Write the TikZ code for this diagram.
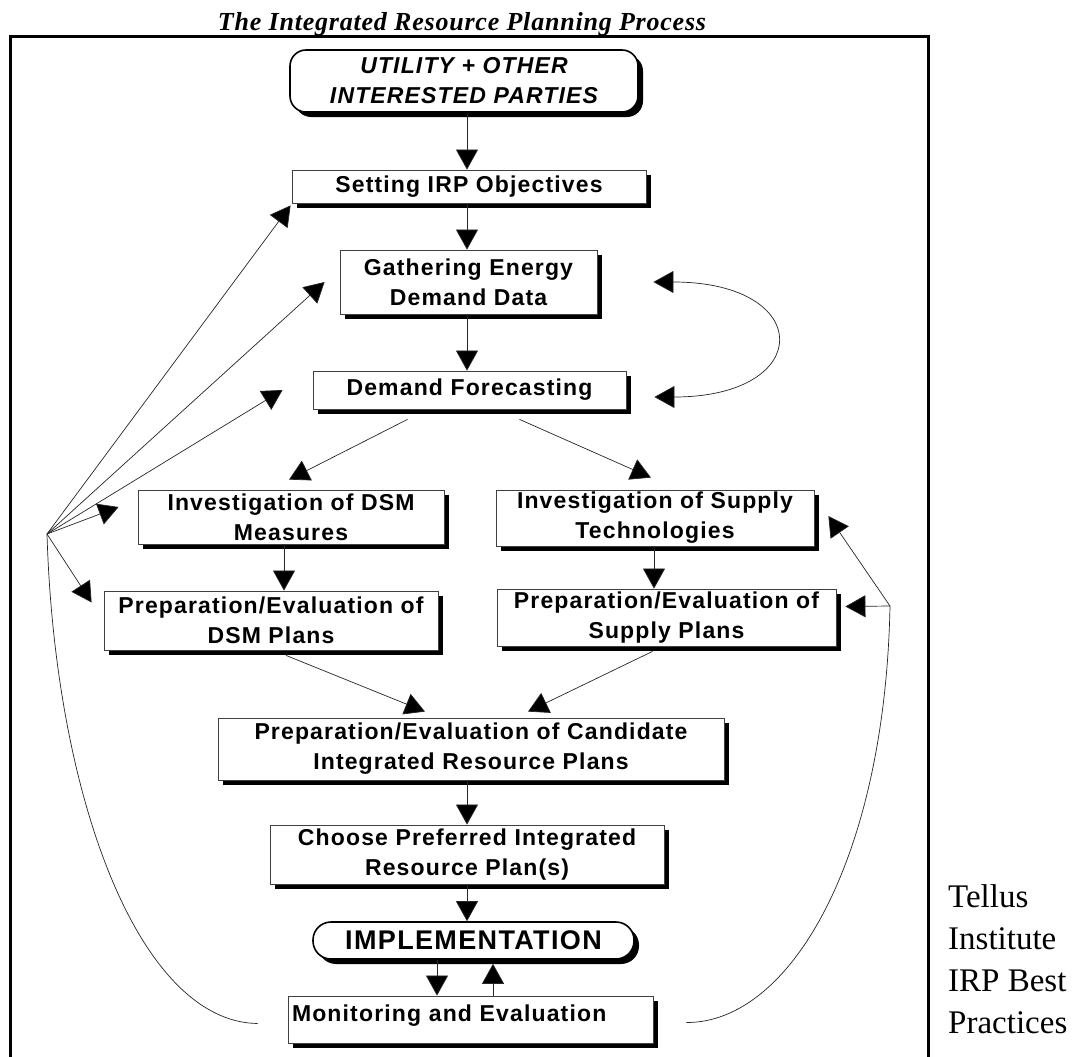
\documentclass[tikz,border=0pt]{standalone}
\usepackage{fontspec}
\setmainfont{Liberation Serif}
\newfontfamily\boxfont[LetterSpace=5]{Liberation Sans}
\newfontfamily\titlefont[LetterSpace=3]{Liberation Serif}
\newfontfamily\notefont{Liberation Serif}
\usetikzlibrary{arrows.meta,shadows,calc}

\begin{document}
\begin{tikzpicture}[x=1pt,y=-1pt,
  stepbox/.style={draw=black!75, line width=0.8pt, fill=white, inner sep=0pt, align=center,
    font=\boxfont\bfseries\fontsize{23}{30}\selectfont,
    drop shadow={shadow xshift=5pt, shadow yshift=-5pt, opacity=1, fill=black}},
  roundbox/.style={stepbox, rounded corners=16pt, line width=1.6pt, draw=black},
  arr/.style={draw=black!85, line width=0.7pt, -{Triangle[length=20pt,width=22pt,fill=black]}},
  link/.style={draw=black!85, line width=0.7pt},
]
\useasboundingbox[fill=white] (0,0) rectangle (1074,1057);

% heading and outer frame
\node[font=\titlefont\bfseries\itshape\fontsize{26}{28}\selectfont, anchor=base, inner sep=0pt]
  (title) at (462,31) {The Integrated Resource Planning Process};
\draw[line width=3pt] (10,1060) -- (10,37) -- (928,37) -- (928,1060);

% process steps
\node[roundbox, minimum width=348pt, minimum height=62pt,
      font=\boxfont\bfseries\itshape\fontsize{23}{30}\selectfont]
  (util) at (464,81) {UTILITY + OTHER\\INTERESTED PARTIES};
\node[stepbox, minimum width=354pt, minimum height=33pt] (setting) at (469,186.5) {Setting IRP Objectives};
\node[stepbox, minimum width=257pt, minimum height=64pt] (gather) at (468.5,282) {Gathering Energy\\Demand Data};
\node[stepbox, minimum width=313pt, minimum height=38pt] (demand) at (469.5,390) {Demand Forecasting};
\node[stepbox, minimum width=306pt, minimum height=54pt] (dsm) at (291,517) {Investigation of DSM\\Measures};
\node[stepbox, minimum width=318pt, minimum height=56pt] (supply) at (655,518) {Investigation of Supply\\Technologies};
\node[stepbox, minimum width=334pt, minimum height=59pt] (prepdsm) at (271,620.5) {Preparation/Evaluation of\\DSM Plans};
\node[stepbox, minimum width=339pt, minimum height=57pt] (prepsup) at (666.5,617.5) {Preparation/Evaluation of\\Supply Plans};
\node[stepbox, minimum width=506pt, minimum height=62pt] (cand) at (471,749) {Preparation/Evaluation of Candidate\\Integrated Resource Plans};
\node[stepbox, minimum width=394pt, minimum height=59pt] (choose) at (467,854.5) {Choose Preferred Integrated\\Resource Plan(s)};
\node[roundbox, rounded corners=18pt, minimum width=321pt, minimum height=37pt,
      font=\boxfont\bfseries\fontsize{27}{30}\selectfont]
  (impl) at (473.5,940.5) {IMPLEMENTATION};
\node[stepbox, minimum width=365pt, minimum height=47pt, text width=357pt, align=left, text depth=12pt]
  (monit) at (470.5,1019.5) {Monitoring and Evaluation};

% side note
\node[font=\notefont\fontsize{33}{42}\selectfont, align=left, anchor=north west, inner sep=0pt]
  (credit) at (948,884) {Tellus\\Institute\\IRP Best\\Practices};

% vertical axes for straight arrows
\coordinate (axis) at (467,0);
\coordinate (dsmaxis) at (284,0);
\coordinate (supaxis) at (654,0);
\coordinate (downx) at (437,0);
\coordinate (upx) at (493,0);

% main flow
\draw[arr] (util.south -| axis) -- (setting.north -| axis);
\draw[arr] (setting.south -| axis) -- (gather.north -| axis);
\draw[arr] (gather.south -| axis) -- (demand.north -| axis);
\draw[arr] ([shift={(-62pt,-10pt)}]demand.south) -- ([shift={(-2pt,10pt)}]dsm.north);
\draw[arr] ([shift={(50pt,-10pt)}]demand.south) -- ([shift={(-4pt,12pt)}]supply.north);
\draw[arr] (dsm.south -| dsmaxis) -- (prepdsm.north -| dsmaxis);
\draw[arr] (supply.south -| supaxis) -- (prepsup.north -| supaxis);
\draw[arr] ([shift={(15pt,-5pt)}]prepdsm.south) -- ([shift={(-46pt,6pt)}]cand.north);
\draw[arr] ([shift={(-14pt,-5pt)}]prepsup.south) -- ([shift={(57pt,6pt)}]cand.north);
\draw[arr] (cand.south -| axis) -- (choose.north -| axis);
\draw[arr] (choose.south -| axis) -- (impl.north -| axis);
\draw[arr] (impl.south -| downx) -- (monit.north -| downx);
\draw[arr] (monit.north -| upx) -- ([yshift=-4pt]impl.south -| upx);

% data gathering / forecasting loop
\draw[link, {Triangle[length=20pt,width=22pt,fill=black]}-{Triangle[length=20pt,width=22pt,fill=black]}]
  ([xshift=56pt]gather.east) .. controls (815,282) and (815,397) .. ([shift={(28pt,-7pt)}]demand.east);

% feedback from monitoring, left side
\coordinate (hub) at (47,534);
\draw[link] (hub) .. controls (55,800) and (140,1022) .. ([shift={(-30pt,-4pt)}]monit.west);
\draw[arr] (hub) -- ([shift={(-1pt,-2pt)}]setting.south west);
\draw[arr] (hub) -- ([xshift=-15pt]gather.west);
\draw[arr] (hub) -- ([xshift=-30pt]demand.west);
\draw[arr] (hub) -- ([shift={(-19pt,10pt)}]dsm.west);
\draw[arr] (hub) -- ([shift={(-12pt,18pt)}]prepdsm.west);

% feedback from monitoring, right side
\coordinate (rhub) at (890,606);
\draw[link] ([shift={(33pt,-3pt)}]monit.east) .. controls (790,1023) and (885,860) .. (rhub);
\draw[arr] (rhub) -- ([shift={(9pt,11pt)}]prepsup.east);
\draw[arr] (rhub) -- ([shift={(14pt,2pt)}]supply.east);
\end{tikzpicture}
\end{document}
